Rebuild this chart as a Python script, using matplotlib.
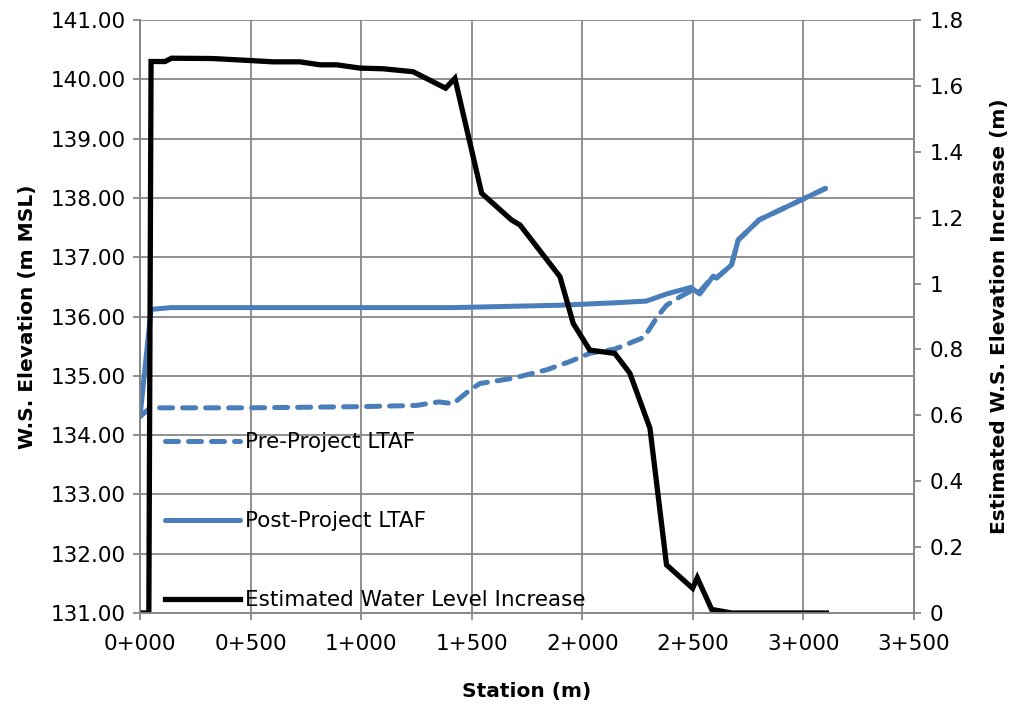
import matplotlib
matplotlib.use("Agg")
import matplotlib.pyplot as plt
from matplotlib.ticker import FuncFormatter, MultipleLocator

# Data (stations in m)
pre_station = [0, 45, 140, 500, 1000, 1250, 1350, 1416, 1492, 1537, 1688, 1838, 1944, 2034, 2147, 2280, 2340, 2381, 2441, 2501, 2531, 2592, 2607, 2675, 2705, 2800, 3100]
pre_ws = [134.31, 134.46, 134.46, 134.46, 134.48, 134.50, 134.56, 134.53, 134.76, 134.87, 134.96, 135.10, 135.24, 135.38, 135.45, 135.65, 136.00, 136.19, 136.33, 136.45, 136.42, 136.68, 136.65, 136.87, 137.29, 137.63, 138.16]

post_station = [0, 50, 140, 500, 1000, 1416, 1900, 2140, 2290, 2381, 2490, 2531, 2592, 2607, 2675, 2705, 2800, 3100]
post_ws = [134.31, 136.12, 136.15, 136.15, 136.15, 136.15, 136.19, 136.23, 136.26, 136.38, 136.49, 136.38, 136.68, 136.65, 136.87, 137.29, 137.63, 138.16]

inc_station = [0, 40, 50, 113, 143, 330, 497, 602, 723, 814, 889, 995, 1099, 1235, 1382, 1424, 1545, 1680, 1718, 1899, 1959, 2034, 2147, 2215, 2306, 2381, 2499, 2520, 2585, 2675, 3104]
inc_val = [0.0, 0.0, 1.674, 1.674, 1.684, 1.683, 1.677, 1.673, 1.673, 1.664, 1.664, 1.654, 1.652, 1.643, 1.593, 1.623, 1.274, 1.193, 1.178, 1.021, 0.879, 0.798, 0.788, 0.728, 0.561, 0.146, 0.075, 0.107, 0.011, 0.0, 0.0]

labels = ["Pre-Project LTAF", "Post-Project LTAF", "Estimated Water Level Increase"]

blue = "#4a7ebb"
grid_c = "#878787"
plt.rcParams["font.family"] = ["DejaVu Sans"]
FS = 15.5
LFS = 14.5

fig = plt.figure(figsize=(10.16, 7.05), dpi=100)
ax = fig.add_axes([140/1016, 1-613/705, (914-140)/1016, (613-20)/705])
ax2 = ax.twinx()

l1, = ax.plot(pre_station, pre_ws, color=blue, lw=3.6, dashes=(2.6, 2.0),
              dash_capstyle="round", solid_capstyle="round")
l2, = ax.plot(post_station, post_ws, color=blue, lw=3.6, solid_capstyle="round")
l3, = ax2.plot(inc_station, inc_val, color="black", lw=3.8, solid_joinstyle="miter")

ax.set_xlim(0, 3500)
ax.set_ylim(131, 141)
ax2.set_ylim(0, 1.8)
ax.xaxis.set_major_locator(MultipleLocator(500))
ax.yaxis.set_major_locator(MultipleLocator(1))
ax2.yaxis.set_major_locator(MultipleLocator(0.2))

ax.xaxis.set_major_formatter(FuncFormatter(lambda v, p: f"{int(round(v))//1000}+{int(round(v))%1000:03d}"))
ax.yaxis.set_major_formatter(FuncFormatter(lambda v, p: f"{v:.2f}"))
ax2.yaxis.set_major_formatter(FuncFormatter(lambda v, p: "0" if abs(v) < 1e-9 else ("1" if abs(v-1) < 1e-9 else f"{v:.1f}")))

ax.grid(True, color=grid_c, lw=1.3)
ax.set_axisbelow(True)
for a in (ax, ax2):
    for s in a.spines.values():
        s.set_color(grid_c)
        s.set_linewidth(1.3)
    a.tick_params(colors=grid_c, labelcolor="black", labelsize=FS, length=5, width=1.3)
ax.spines["top"].set_visible(False)
ax2.spines["top"].set_visible(False)
ax.tick_params(axis="x", pad=10)
ax.tick_params(axis="y", pad=5)
ax2.tick_params(axis="y", pad=6)

ax.set_xlabel("Station (m)", fontsize=LFS, fontweight="bold", labelpad=20)
ax.set_ylabel("W.S. Elevation (m MSL)", fontsize=LFS, fontweight="bold", labelpad=10)
ax2.set_ylabel("Estimated W.S. Elevation Increase (m)", fontsize=LFS, fontweight="bold", labelpad=19)

leg = ax2.legend([l1, l2, l3], labels, loc="upper left", bbox_to_anchor=(0.0212, 0.3194),
                 frameon=False, fontsize=FS, handlelength=3.5, labelspacing=2.74,
                 handletextpad=0.23, borderaxespad=0)

fig.savefig("out.png", dpi=100)
